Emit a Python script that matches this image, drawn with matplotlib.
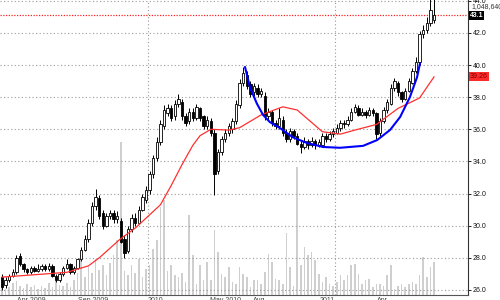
import numpy as np
import matplotlib
matplotlib.use('Agg')
import matplotlib.pyplot as plt
import matplotlib.transforms as mtransforms

## weekly candles
opens = [26.8, 26.3, 26.6, 26.9, 27.1, 28.1, 27.6, 27.3, 27.1, 27.4,
         27.2, 27.3, 27.5, 27.3, 27.5, 26.9, 26.6, 27.0, 27.4, 27.6,
         27.1, 27.4, 27.9, 28.5, 29.2, 30.2, 31.2, 31.7, 30.8, 30.0,
         30.6, 30.8, 30.4, 30.3, 29.2, 28.4, 29.8, 30.5, 30.2, 31.0,
         31.6, 32.2, 33.2, 34.2, 35.2, 36.2, 37.0, 37.3, 36.8, 37.6,
         37.7, 36.8, 36.5, 37.1, 36.7, 37.3, 36.8, 36.2, 36.5, 35.8,
         33.4, 34.6, 35.4, 35.8, 36.0, 36.5, 37.5, 38.9, 39.4, 38.8,
         38.3, 38.6, 38.2, 38.1, 36.8, 37.1, 36.4, 36.2, 36.6, 35.8,
         35.4, 35.9, 35.6, 35.1, 34.9, 35.3, 35.0, 35.3, 35.0, 35.0,
         35.6, 35.4, 35.7, 35.8, 36.1, 36.4, 36.3, 36.6, 37.1, 37.3,
         36.9, 37.1, 36.9, 37.2, 37.0, 35.8, 36.5, 37.2, 37.6, 38.6,
         38.9, 38.3, 37.9, 38.4, 38.9, 39.6, 40.2, 41.9, 42.2, 42.6,
         42.8]
closes = [26.2, 26.6, 26.9, 27.1, 28.0, 27.6, 27.3, 27.1, 27.4, 27.2,
          27.3, 27.5, 27.3, 27.5, 26.9, 26.6, 27.0, 27.4, 27.6, 27.1,
          27.4, 27.9, 28.5, 29.2, 30.2, 31.2, 31.8, 30.6, 30.0, 30.6,
          30.8, 30.4, 30.6, 29.0, 28.3, 29.8, 30.5, 30.2, 31.0, 31.8,
          32.2, 33.2, 34.2, 35.2, 36.3, 37.2, 37.3, 36.7, 37.6, 37.9,
          36.8, 36.4, 37.1, 36.7, 37.4, 36.7, 36.2, 36.6, 35.8, 33.2,
          34.6, 35.4, 35.8, 36.2, 36.5, 37.6, 38.9, 39.5, 38.7, 38.2,
          38.7, 38.2, 38.4, 36.8, 37.1, 36.4, 36.2, 36.7, 35.8, 35.4,
          35.9, 35.6, 35.1, 34.9, 35.3, 35.0, 35.3, 35.0, 35.2, 35.6,
          35.4, 35.7, 35.9, 36.1, 36.4, 36.3, 36.6, 37.1, 37.4, 36.9,
          37.1, 36.9, 37.2, 37.0, 35.7, 36.5, 37.2, 37.7, 38.6, 39.0,
          38.3, 37.9, 38.4, 39.0, 39.6, 40.2, 41.9, 42.2, 42.6, 43.4,
          43.1]
highs = [27.0, 26.8, 27.0, 27.3, 28.2, 28.3, 27.7, 27.4, 27.5, 27.5,
         27.6, 27.6, 27.6, 27.7, 27.6, 27.0, 27.1, 27.5, 27.9, 27.7,
         27.5, 28.0, 28.7, 29.4, 30.4, 31.5, 32.3, 31.9, 31.0, 30.8,
         31.0, 31.0, 30.9, 30.5, 29.4, 30.0, 30.7, 30.8, 31.2, 32.0,
         32.5, 33.4, 34.4, 35.5, 36.6, 37.5, 37.6, 37.5, 37.8, 38.2,
         37.9, 37.0, 37.3, 37.3, 37.6, 37.4, 36.9, 36.8, 36.7, 36.0,
         34.8, 35.6, 36.0, 36.4, 36.7, 37.8, 39.1, 39.9, 39.6, 39.0,
         38.9, 38.8, 38.6, 38.3, 37.3, 37.2, 36.6, 37.3, 36.8, 36.0,
         36.1, 36.0, 35.8, 35.3, 35.5, 35.4, 35.5, 35.4, 35.4, 35.8,
         35.8, 35.9, 36.1, 36.3, 36.6, 36.6, 36.8, 37.3, 37.6, 37.5,
         37.3, 37.2, 37.4, 37.3, 37.1, 36.7, 37.4, 37.9, 38.8, 39.2,
         39.0, 38.4, 38.6, 39.2, 39.8, 40.5, 42.1, 42.5, 43.0, 44.2,
         44.3]
lows = [26.0, 26.1, 26.5, 26.8, 27.0, 27.5, 27.1, 27.0, 27.0, 27.1,
        27.1, 27.2, 27.2, 27.2, 26.8, 26.5, 26.5, 26.9, 27.3, 27.0,
        27.0, 27.3, 27.8, 28.4, 29.0, 30.0, 31.0, 30.4, 29.8, 29.9,
        30.4, 30.2, 30.2, 28.9, 28.0, 28.3, 29.6, 30.0, 30.1, 30.9,
        31.4, 32.0, 33.0, 34.0, 35.0, 36.0, 36.8, 36.5, 36.6, 37.4,
        36.6, 36.2, 36.3, 36.5, 36.6, 36.5, 36.0, 36.0, 35.6, 31.9,
        33.2, 34.4, 35.2, 35.6, 35.8, 36.3, 37.3, 38.7, 38.5, 38.0,
        38.1, 38.0, 38.0, 36.6, 36.6, 36.2, 36.0, 36.0, 35.6, 35.2,
        35.2, 35.4, 35.0, 34.5, 34.8, 34.8, 34.9, 34.8, 34.9, 34.9,
        35.2, 35.3, 35.5, 35.7, 35.9, 36.1, 36.2, 36.5, 37.0, 36.8,
        36.8, 36.7, 36.8, 36.8, 35.4, 35.6, 36.4, 37.0, 37.5, 38.4,
        38.1, 37.7, 37.8, 38.3, 38.8, 39.5, 40.0, 41.7, 42.0, 42.4,
        42.6]
# volume in thousands
volumes = [320, 190, 260, 380, 450, 290, 220, 350, 260, 320,
           190, 290, 220, 380, 260, 450, 320, 290, 380, 260,
           480, 700, 1280, 580, 900, 700, 1150, 800, 960, 640,
           1020, 1280, 1760, 4900, 770, 640, 960, 700, 1150, 580,
           830, 960, 1470, 1760, 2820, 3040, 770, 960, 640, 580,
           700, 420, 2560, 1280, 350, 960, 480, 1060, 480, 2080,
           1380, 670, 580, 900, 420, 350, 900, 670, 580, 260,
           480, 480, 350, 740, 1310, 1060, 510, 480, 350, 1980,
           900, 290, 4100, 960, 1540, 1280, 1380, 1120, 670, 420,
           580, 350, 290, 420, 640, 480, 640, 960, 990, 670,
           350, 480, 510, 260, 350, 350, 290, 640, 960, 190,
           290, 350, 260, 350, 420, 350, 640, 1220, 580, 900,
           1050]

## moving average (red)
maIdx = [0, 9, 18, 24, 27, 31, 33, 37, 44, 47, 50, 53, 55, 58, 63, 66,
         72, 78, 82, 89, 94, 98, 104, 110, 116, 120]
maVal = [26.8, 26.95, 27.1, 27.5, 28.0, 28.8, 29.2, 29.85, 31.3, 32.5,
         33.8, 35.0, 35.6, 36.0, 35.95, 36.1, 36.9, 37.4, 37.2, 35.85,
         35.7, 35.95, 36.3, 37.3, 37.95, 39.26]

## hand drawn cup (blue)
cupIdx = [67.5, 68.9, 70.8, 72.5, 74.4, 77.2, 80.8, 84.7, 89.2, 93.9,
          100.3, 104.2, 107.8, 110.6, 113.3, 115.3, 116.1]
cupVal = [39.88, 38.6, 37.6, 36.9, 36.45, 36.08, 35.5, 35.15, 34.9, 34.85,
          34.97, 35.33, 35.96, 36.77, 38.0, 39.25, 40.1]

lastClose = 43.1
lastMa = 39.26
lastVolume = '1,048,640'
priceTicks = [26, 28, 30, 32, 34, 36, 38, 40, 42, 44]
dateLabels = ['Apr 2009', 'Sep 2009', '2010', 'May 2010', 'Aug', '2011', 'Apr']
dateLabelPx = [17, 78, 148, 210, 253, 320, 377]
yearLineIdx = [40.6, 92.5]

barIdx = np.arange(len(closes))
pxPerBar = 3.6

fig = plt.figure(figsize=(5, 3), dpi=100)
plt.rcParams['font.family'] = ['Liberation Sans', 'DejaVu Sans']
ax = fig.add_axes([0, 5 / 300, 468 / 500, 295 / 300])
vax = ax.twinx()
ax.set_zorder(2)
vax.set_zorder(1)
ax.patch.set_visible(False)

xMin = -2 / pxPerBar
xMax = (468 - 2) / pxPerBar
ax.set_xlim(xMin, xMax)
ax.set_ylim(26 - 5 / 16.07, 26 + 290 / 16.07)

## volume bars
vax.bar(barIdx, volumes, width=0.42, color='#cfcfcf', linewidth=0)
vax.set_ylim(0, 9440)
vax.set_yticks([])
for s in vax.spines.values():
    s.set_visible(False)

## gridlines
for p in priceTicks:
    ax.axhline(p, color='#9a9a9a', lw=0.8, linestyle=(0, (1, 2.2)), zorder=1)
for xi in yearLineIdx:
    ax.axvline(xi, color='#9a9a9a', lw=0.8, linestyle=(0, (1, 2.2)), zorder=1)
ax.axhline(lastClose, color='#ff2020', lw=0.9, linestyle=(0, (1, 1.2)), zorder=1)

## candles
opensArr = np.array(opens)
closesArr = np.array(closes)
ax.vlines(barIdx, lows, highs, color='black', lw=0.7, zorder=3)
bodyBottom = np.minimum(opensArr, closesArr)
bodyHeight = np.maximum(np.abs(closesArr - opensArr), 0.06)
bodyColor = ['white' if c >= o else 'black' for o, c in zip(opens, closes)]
ax.bar(barIdx, bodyHeight, bottom=bodyBottom, width=0.62, color=bodyColor,
       edgecolor='black', linewidth=0.6, zorder=4)

ax.plot(maIdx, maVal, color='#ff3030', lw=0.9, zorder=5)
ax.plot(cupIdx, cupVal, color='#0000ff', lw=1.5, zorder=6, solid_capstyle='round')

## axes look
ax.spines['top'].set_visible(False)
ax.spines['left'].set_visible(False)
ax.spines['right'].set_color('#333333')
ax.spines['bottom'].set_color('#555555')
ax.yaxis.tick_right()
ax.set_yticks(priceTicks)
ax.set_yticklabels(['%.1f' % p for p in priceTicks], fontsize=5, color='#111111')
ax.tick_params(axis='y', length=2, pad=1.5, width=0.6)
ax.set_xticks([])

## value boxes on the right
blend = mtransforms.blended_transform_factory(ax.transAxes, ax.transData)
ax.text(1.004, lastClose, '%.1f' % lastClose, transform=blend, fontsize=5,
        color='white', va='center', ha='left', fontweight='bold',
        bbox=dict(boxstyle='square,pad=0.15', fc='black', ec='none'), zorder=10)
ax.text(1.004, lastMa, '%.2f' % lastMa, transform=blend, fontsize=5,
        color='#7a0000', va='center', ha='left',
        bbox=dict(boxstyle='square,pad=0.15', fc='#ff2a2a', ec='none'), zorder=10)
fig.text(471 / 500, 1 - 6.5 / 300, lastVolume, fontsize=5, color='#333333',
         va='center', ha='left')

## date labels, mostly cut by the bottom edge
for lbl, px in zip(dateLabels, dateLabelPx):
    fig.text(px / 500, 1 - 297.5 / 300, lbl, fontsize=5, color='#444444',
             va='top', ha='left')

fig.savefig('out.png', dpi=100, facecolor='white')
